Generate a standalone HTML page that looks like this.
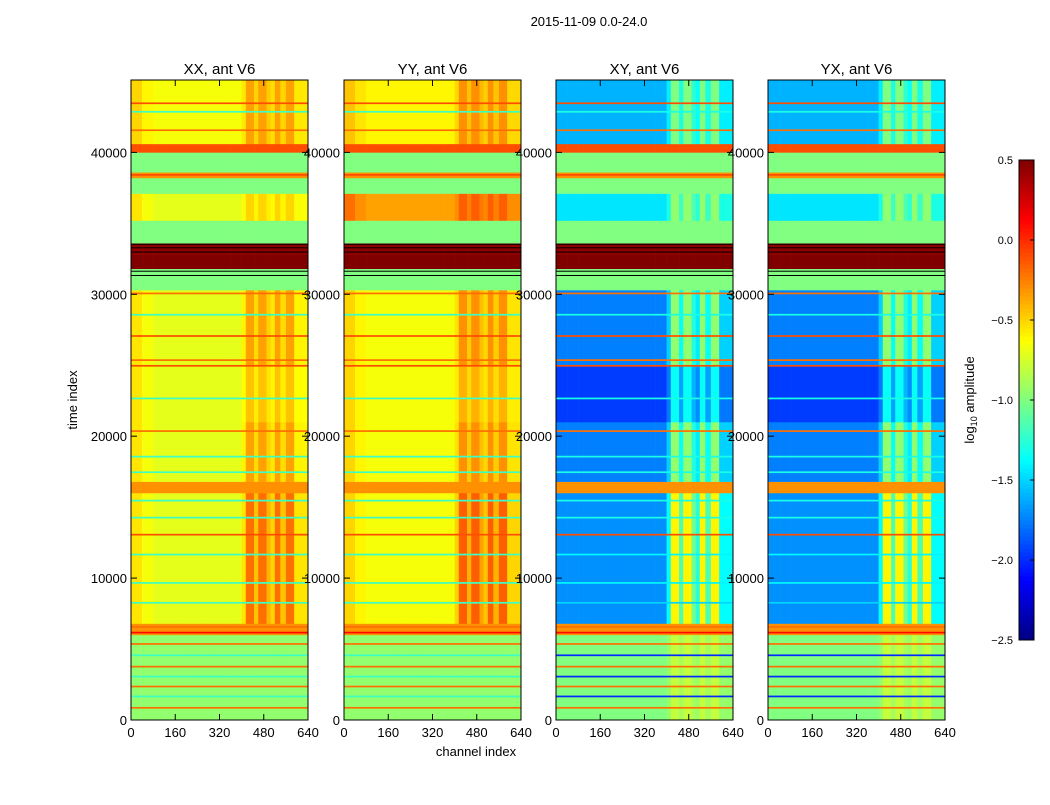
<!DOCTYPE html>
<html><head><meta charset="utf-8"><style>
body{margin:0;background:#fff;font-family:"Liberation Sans",sans-serif}
svg text{font-family:"Liberation Sans",sans-serif}
</style></head><body>
<svg id="chart" width="1050" height="800" xmlns="http://www.w3.org/2000/svg">
<text x="589" y="26" font-size="13" text-anchor="middle">2015-11-09 0.0-24.0</text>
<text transform="translate(77,400) rotate(-90)" font-size="13" text-anchor="middle">time index</text>
<text x="476" y="756" font-size="13" text-anchor="middle">channel index</text>
<g id="panels"></g>
<g id="cbar"></g>
<text transform="translate(974,400) rotate(-90)" font-size="13" text-anchor="middle">log<tspan font-size="9" dy="3">10</tspan><tspan dy="-3"> amplitude</tspan></text>
</svg>
<script>
const panelTitles=["XX, ant V6","YY, ant V6","XY, ant V6","YX, ant V6"];
const bandStart=[0,6000,6800,16000,16800,21000,25000,30300,31800,32800,33600,35200,37100,38200,38600,39600,40000,40600];
const bandEnd=[6000,6800,16000,16800,21000,25000,30300,31800,32800,33600,35200,37100,38200,38600,39600,40000,40600,45100];
const parVal=[-0.95,-0.3,-0.7,-0.3,-0.7,-0.7,-0.7,-1.0,0.5,0.45,-1.0,-0.7,-1.0,-0.3,-1.0,-1.0,-0.1,-0.65];
const yyVal=[-0.95,-0.3,-0.65,-0.3,-0.65,-0.65,-0.65,-1.0,0.5,0.45,-1.0,-0.35,-1.0,-0.3,-1.0,-1.0,-0.1,-0.6];
const crossVal=[-1.0,-0.3,-1.7,-0.3,-1.75,-1.95,-1.75,-1.0,0.5,0.45,-1.0,-1.45,-1.0,-0.3,-1.0,-1.0,-0.1,-1.6];
const hotPar=[0.0,0.0,0.5,0.0,0.35,0.25,0.35,0,0,0,0,0.2,0,0,0,0,0,0.3];
const hotCross=[0.2,0.0,1.1,0.0,0.8,0.6,0.8,0,0,0,0,0.5,0,0,0,0,0,0.6];
const chanEdges=[0,40,80,120,160,200,240,280,320,360,400,415,445,460,490,505,520,540,560,590,640];
const chanGain=[0,0,0,0,0,0,0,0,0,0,0.3,1,0.5,1,0.6,0.4,1,0.5,1,0.3];
const edgeOffset=[0.15,0.05,0,0,0,0,0,0,0,0,0,0,0,0,0,0,0,0,0,0];
const stripeT=[800,1600,2300,3000,3700,4500,5300,6100,6500,8200,9600,11600,13000,14200,15400,17400,18500,20300,22600,24900,25300,27000,28500,30000,38350,41500,42800,43400];
const stripeVal=[-0.2,-2.0,-0.2,-2.0,-0.2,-2.0,-0.2,0.1,-0.2,-1.5,-1.4,-1.4,-0.1,-1.3,-1.3,-1.3,-1.3,-0.2,-1.3,-0.1,-0.2,-0.1,-1.3,-0.2,-0.1,-0.2,-1.3,-0.1];
const yTicks=[0,10000,20000,30000,40000];
const xTicks=[0,160,320,480,640];
const cbTicks=[-2.5,-2.0,-1.5,-1.0,-0.5,0.0,0.5];

const NS="http://www.w3.org/2000/svg";
const panelX=[131,344,556,768], PW=177, PT=80, PB=720, TMAX=45100;
const yS=t=>PB-(t/TMAX)*(PB-PT);
const cl=v=>Math.max(0,Math.min(1,v));
function jet(v){const t=cl((v+2.5)/3);const r=cl(1.5-Math.abs(4*t-3)),g=cl(1.5-Math.abs(4*t-2)),b=cl(1.5-Math.abs(4*t-1));return `rgb(${Math.round(r*255)},${Math.round(g*255)},${Math.round(b*255)})`;}
function mk(tag,attrs,parent){const e=document.createElementNS(NS,tag);for(const k in attrs)e.setAttribute(k,attrs[k]);parent.appendChild(e);return e;}
const root=document.getElementById('panels');
panelTitles.forEach((title,p)=>{
  const x0=panelX[p];const xS=c=>x0+c/640*PW;
  const g=mk('g',{},root);
  
  
  const base=p==0?parVal:p==1?yyVal:crossVal;const hot=p<2?hotPar:hotCross;
  for(let b=0;b<bandStart.length;b++){
    for(let c=0;c<chanGain.length;c++){
      const r=mk('rect',{x:xS(chanEdges[c]),y:yS(bandEnd[b]),width:xS(chanEdges[c+1])-xS(chanEdges[c])+0.3,height:yS(bandStart[b])-yS(bandEnd[b])+0.3,fill:jet(base[b]+chanGain[c]*hot[b]+(p<2&&hot[b]>0?edgeOffset[c]:0))},g);
      
      
    }
  }
  stripeT.forEach((t,i)=>{
    const v=p<2&&stripeVal[i]<-1?-1.2:stripeVal[i];
    const r=mk('rect',{x:x0,y:yS(t+120),width:PW,height:yS(t)-yS(t+120),fill:jet(v)},g);
    
    
  });
  [32950,33250,33500,31600,31300].forEach(t=>mk('rect',{x:x0,y:yS(t+60),width:PW,height:1,fill:'#000'},g));
  mk('rect',{x:x0,y:PT,width:PW,height:PB-PT,fill:'none',stroke:'#000','stroke-width':1},g);
  const tt=mk('text',{x:x0+PW/2,y:PT-6,'font-size':15,'text-anchor':'middle'},g);tt.textContent=title;
  yTicks.forEach(t=>{const y=yS(t);mk('line',{x1:x0,x2:x0+6,y1:y,y2:y,stroke:'#000'},g);mk('line',{x1:x0+PW,x2:x0+PW-6,y1:y,y2:y,stroke:'#000'},g);
    const l=mk('text',{x:x0-4,y:y+5,'font-size':13,'text-anchor':'end'},g);l.textContent=t;});
  xTicks.forEach(c=>{const x=xS(c);mk('line',{x1:x,x2:x,y1:PB,y2:PB-6,stroke:'#000'},g);mk('line',{x1:x,x2:x,y1:PT,y2:PT+6,stroke:'#000'},g);
    const l=mk('text',{x:x,y:PB+17,'font-size':13,'text-anchor':'middle'},g);l.textContent=c;});
});
const cb=document.getElementById('cbar');const CT=160,CB=640,CX=1019,CW=15;
const cy=v=>CB-(v+2.5)/3*(CB-CT);
for(let i=0;i<120;i++){const v=-2.5+i*3/120;mk('rect',{x:CX,y:cy(v+3/120),width:CW,height:(CB-CT)/120+0.5,fill:jet(v+1.5/120)},cb);}
mk('rect',{x:CX,y:CT,width:CW,height:CB-CT,fill:'none',stroke:'#000'},cb);
cbTicks.forEach(v=>{const y=cy(v);mk('line',{x1:CX+CW-4,x2:CX+CW,y1:y,y2:y,stroke:'#000'},cb);const l=mk('text',{x:1013,y:y+4,'font-size':11,'text-anchor':'end'},cb);l.textContent=v.toFixed(1).replace('-','−');});
</script>
</body></html>
